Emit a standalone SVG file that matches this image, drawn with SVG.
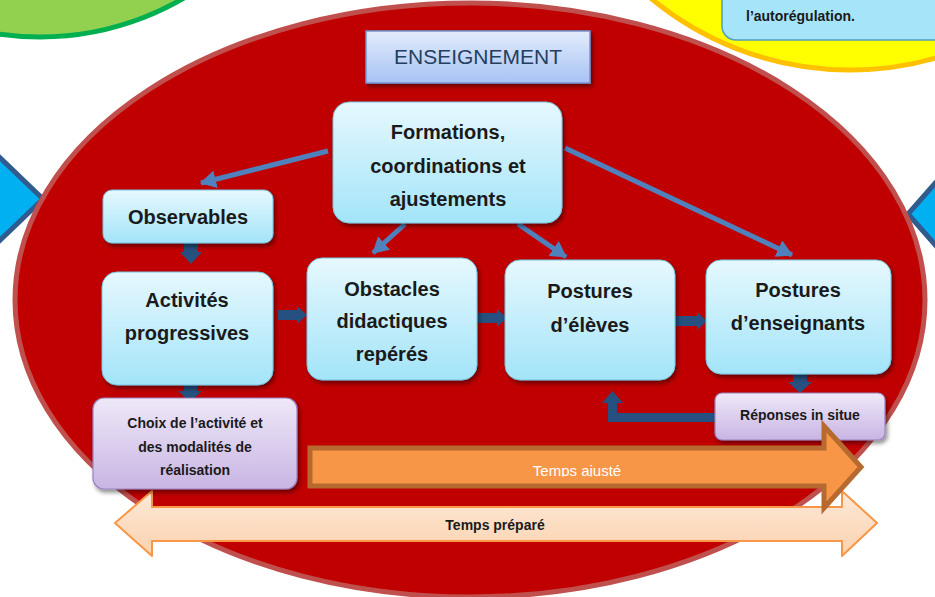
<svg xmlns="http://www.w3.org/2000/svg" width="935" height="597" viewBox="0 0 935 597">
  <defs>
    <linearGradient id="gBlue" x1="0" y1="0" x2="0" y2="1">
      <stop offset="0" stop-color="#e6f8fe"/>
      <stop offset="1" stop-color="#a3e4f9"/>
    </linearGradient>
    <linearGradient id="gLilac" x1="0" y1="0" x2="0" y2="1">
      <stop offset="0" stop-color="#efe8f8"/>
      <stop offset="1" stop-color="#c8b5e3"/>
    </linearGradient>
    <linearGradient id="gTitle" x1="0" y1="0" x2="0" y2="1">
      <stop offset="0" stop-color="#e3ecfc"/>
      <stop offset="1" stop-color="#a7c2f4"/>
    </linearGradient>
    <linearGradient id="gPeach" x1="0" y1="0" x2="0" y2="1">
      <stop offset="0" stop-color="#fde9d8"/>
      <stop offset="1" stop-color="#fbd2ae"/>
    </linearGradient>
    <filter id="shadow" x="-10%" y="-10%" width="125%" height="130%">
      <feDropShadow dx="2" dy="3" stdDeviation="2" flood-color="#000" flood-opacity="0.45"/>
    </filter>
    <marker id="headBlue" markerUnits="userSpaceOnUse" markerWidth="18" markerHeight="18" refX="15" refY="9" orient="auto">
      <path d="M0,0 L16,9 L0,18 z" fill="#4f81bd"/>
    </marker>
    <clipPath id="clipAjuste">
      <rect x="300" y="440" width="520" height="36.5"/>
    </clipPath>
  </defs>
  <style>
    .box { fill: url(#gBlue); stroke: #74c6df; stroke-width: 1; filter: url(#shadow); }
    .lilac { fill: url(#gLilac); stroke: #9a82c0; stroke-width: 1.2; filter: url(#shadow); }
    .lbl { font-family: "Liberation Sans", Arial, sans-serif; font-weight: bold; font-size: 20px; fill: #1a1a1a; text-anchor: middle; }
    .sm { font-size: 14px; }
    .thin { stroke: #4f81bd; stroke-width: 5; fill: none; marker-end: url(#headBlue); }
    .block { fill: #25507f; }
  </style>

  <rect width="935" height="597" fill="#ffffff"/>

  <!-- neighbouring themes, partly visible at the edges -->
  <g id="theme-green">
    <circle cx="40" cy="-248" r="285" fill="#92d050" stroke="#00b050" stroke-width="5"/>
  </g>
  <g id="theme-yellow">
    <circle cx="850" cy="-242" r="312" fill="#ffff00" stroke="#ffc000" stroke-width="5"/>
    <rect x="722" y="-30" width="240" height="70" rx="14" fill="#a6e4f9" stroke="#4f9fc0" stroke-width="1.5"/>
    <text x="746" y="21" font-family="Liberation Sans, Arial, sans-serif" font-weight="bold" font-size="14" fill="#1a1a1a">l’autorégulation.</text>
  </g>
  <g id="link-left">
    <polygon points="-8,150 43,199 -8,248" fill="#00b0f0" stroke="#2f5b8e" stroke-width="5"/>
  </g>
  <g id="link-right">
    <polygon points="945,172 908,214 945,256" fill="#00b0f0" stroke="#2f5b8e" stroke-width="5"/>
  </g>

  <!-- main area -->
  <g id="enseignement-area">
    <ellipse cx="470" cy="300" rx="455" ry="297" fill="#c00000" stroke="#c0504d" stroke-width="5"/>
  </g>

  <g id="temps-prepare">
    <path d="M115,523 L152,491 V507 H842 V491 L877,523 L842,556 V541 H152 V556 Z" fill="url(#gPeach)" stroke="#f79646" stroke-width="2" stroke-linejoin="round"/>
    <text x="495" y="530" font-family="Liberation Sans, Arial, sans-serif" font-weight="bold" font-size="14" fill="#1a1a1a" text-anchor="middle">Temps préparé</text>
  </g>

  <g id="enseignement-title">
    <rect x="366" y="31" width="224" height="52" fill="url(#gTitle)" stroke="#7096d4" stroke-width="1.5" filter="url(#shadow)"/>
    <text x="478" y="64" font-family="Liberation Sans, Arial, sans-serif" font-size="21" fill="#243f60" text-anchor="middle">ENSEIGNEMENT</text>
  </g>

  <!-- connectors -->
  <g id="connectors">
    <line class="thin" x1="328" y1="151" x2="201" y2="183"/>
    <line class="thin" x1="405" y1="224" x2="373" y2="253"/>
    <line class="thin" x1="518" y1="224" x2="566" y2="257"/>
    <line class="thin" x1="565" y1="148" x2="792" y2="255"/>
    <!-- Observables to Activités -->
    <path class="block" d="M184,243 H198 V252 H202 L191,264 L180,252 H184 Z"/>
    <!-- Activités to Choix -->
    <path class="block" d="M184,384 H197 V391 H202 L190,402 L178,391 H184 Z"/>
    <!-- Activités to Obstacles -->
    <path class="block" d="M278,310 H297 V306 L307,315 L297,324 V320 H278 Z"/>
    <!-- Obstacles to Postures d'élèves -->
    <path class="block" d="M478,313 H497 V309 L507,318 L497,327 V323 H478 Z"/>
    <!-- Postures d'élèves to Postures d'enseignants -->
    <path class="block" d="M675,316 H697 V312 L707,321 L697,330 V326 H675 Z"/>
    <!-- Postures d'enseignants to Réponses -->
    <path class="block" d="M793,374 H807 V382 H812 L800,393 L788,382 H793 Z"/>
    <!-- Réponses back to Postures d'élèves -->
    <path class="block" d="M716,413 V422 H608 V403 H602 L612.5,391 L623,403 H617 V413 Z"/>
  </g>

  <!-- nodes -->
  <g id="formations">
    <rect class="box" x="333" y="102" width="229" height="121" rx="16"/>
    <text class="lbl" x="448" y="139">Formations,</text>
    <text class="lbl" x="448" y="173">coordinations et</text>
    <text class="lbl" x="448" y="206">ajustements</text>
  </g>
  <g id="observables">
    <rect class="box" x="103" y="190" width="170" height="53" rx="9"/>
    <text class="lbl" x="188" y="224">Observables</text>
  </g>
  <g id="activites">
    <rect class="box" x="102" y="272" width="171" height="113" rx="15"/>
    <text class="lbl" x="187" y="307">Activités</text>
    <text class="lbl" x="187" y="340">progressives</text>
  </g>
  <g id="obstacles">
    <rect class="box" x="307" y="258" width="170" height="122" rx="15"/>
    <text class="lbl" x="392" y="296">Obstacles</text>
    <text class="lbl" x="392" y="328">didactiques</text>
    <text class="lbl" x="392" y="361">repérés</text>
  </g>
  <g id="postures-eleves">
    <rect class="box" x="505" y="260" width="170" height="120" rx="15"/>
    <text class="lbl" x="590" y="298">Postures</text>
    <text class="lbl" x="590" y="332">d’élèves</text>
  </g>
  <g id="postures-enseignants">
    <rect class="box" x="706" y="260" width="185" height="114" rx="15"/>
    <text class="lbl" x="798" y="297">Postures</text>
    <text class="lbl" x="798" y="330">d’enseignants</text>
  </g>
  <g id="choix">
    <rect class="lilac" x="93" y="398" width="204" height="91" rx="11"/>
    <text class="lbl sm" x="195" y="428">Choix de l’activité et</text>
    <text class="lbl sm" x="195" y="452">des modalités de</text>
    <text class="lbl sm" x="195" y="475">réalisation</text>
  </g>
  <g id="reponses">
    <rect class="lilac" x="715" y="393" width="170" height="47" rx="7"/>
    <text class="lbl sm" x="800" y="420">Réponses in situe</text>
  </g>

  <g id="temps-ajuste">
    <path d="M310,448 H824 V426 L861,467 L824,508 V486 H310 Z" fill="#f79646" stroke="#b66a30" stroke-width="5" stroke-linejoin="miter"/>
    <text x="577" y="476" clip-path="url(#clipAjuste)" font-family="Liberation Sans, Arial, sans-serif" font-size="15" fill="#ffffff" text-anchor="middle">Temps ajusté</text>
  </g>
</svg>
